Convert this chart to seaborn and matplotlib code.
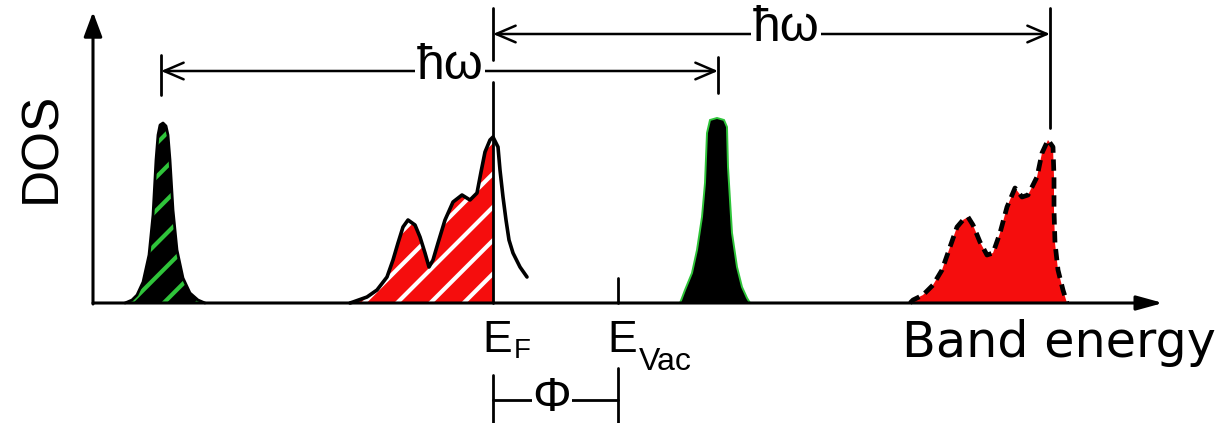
import numpy as np
import matplotlib
matplotlib.use("Agg")
import matplotlib.pyplot as plt
import seaborn as sns

# energies in arbitrary units, E_F = 0
E_F = 0.0
E_VAC = 1.25
HW = 5.57
CORE = -3.32

# core level (left, green hatched)
core_x = np.array([-3.68, -3.61, -3.56, -3.50, -3.44, -3.40, -3.37, -3.35, -3.33, -3.30,
                   -3.27, -3.25, -3.23, -3.20, -3.16, -3.10, -3.03, -2.95, -2.88])
core_dos = np.array([0, 0.03, 0.08, 0.21, 0.48, 0.88, 1.43, 1.68, 1.78, 1.80,
                     1.77, 1.68, 1.43, 0.93, 0.53, 0.25, 0.10, 0.03, 0])

# valence band (red hatched, filled up to E_F)
vb_x = np.array([-1.43, -1.40, -1.26, -1.16, -1.06, -1.00, -0.95, -0.90, -0.85, -0.78,
                 -0.73, -0.68, -0.64, -0.60, -0.55, -0.48, -0.40, -0.31, -0.23, -0.16,
                 -0.12, -0.08, -0.03, 0.00, 0.05, 0.07, 0.10, 0.13, 0.16, 0.20, 0.27, 0.34])
vb_dos = np.array([0, 0.01, 0.06, 0.13, 0.26, 0.43, 0.60, 0.76, 0.83, 0.78,
                   0.66, 0.50, 0.36, 0.43, 0.60, 0.83, 1.01, 1.08, 1.03, 1.10,
                   1.31, 1.51, 1.63, 1.66, 1.56, 1.33, 1.06, 0.83, 0.63, 0.50, 0.36, 0.26])

# photoemitted core level (right, black/green)
pe_core_x = np.array([1.87, 1.89, 1.92, 1.99, 2.04, 2.09, 2.12, 2.14, 2.17, 2.24,
                      2.31, 2.34, 2.35, 2.37, 2.39, 2.44, 2.49, 2.54, 2.57])
pe_core_dos = np.array([0, 0.05, 0.13, 0.30, 0.53, 0.86, 1.20, 1.70, 1.83, 1.85,
                        1.83, 1.76, 1.36, 1.03, 0.70, 0.36, 0.16, 0.05, 0])

# photoemitted valence band (right, solid red)
pe_vb_x = np.array([4.17, 4.20, 4.30, 4.40, 4.49, 4.57, 4.64, 4.70, 4.75, 4.80,
                    4.87, 4.94, 5.00, 5.07, 5.14, 5.22, 5.29, 5.35, 5.44, 5.49,
                    5.55, 5.60, 5.61, 5.61, 5.62, 5.65, 5.70, 5.74])
pe_vb_dos = np.array([0, 0.03, 0.08, 0.18, 0.33, 0.56, 0.76, 0.83, 0.86, 0.78,
                      0.61, 0.48, 0.50, 0.70, 0.96, 1.15, 1.06, 1.08, 1.26, 1.50,
                      1.63, 1.56, 1.26, 0.93, 0.60, 0.33, 0.13, 0])

sns.set_theme(style="white")
plt.rcParams["font.family"] = ["Liberation Sans", "DejaVu Sans"]
plt.rcParams["text.color"] = "black"
plt.rcParams["hatch.linewidth"] = 3.0

RED = "#f50d0d"
GREEN = "#2fc43a"

fig = plt.figure(figsize=(12.28, 4.23), dpi=100)
ax = fig.add_axes([0, 0, 1, 1])
ax.set_xlim(-4.93, 7.35)
ax.set_ylim(-1.20, 3.03)
ax.axis("off")

# axes with arrows
ax.annotate("", xy=(6.70, 0), xytext=(-4.0, 0),
            arrowprops=dict(arrowstyle="-|>,head_length=0.8,head_width=0.22",
                            mutation_scale=20, lw=2.2, color="black",
                            shrinkA=0, shrinkB=0), zorder=5)
ax.annotate("", xy=(-4.0, 2.91), xytext=(-4.0, -0.01),
            arrowprops=dict(arrowstyle="-|>,head_length=0.75,head_width=0.28",
                            mutation_scale=20, lw=2.2, color="black",
                            shrinkA=0, shrinkB=0), zorder=5)

# core level
ax.fill(core_x, core_dos, facecolor="black", edgecolor=GREEN, hatch="/",
        linewidth=0, zorder=2)
sns.lineplot(x=core_x, y=core_dos, sort=False, estimator=None, color="black",
             lw=2, ax=ax, zorder=3)

# valence band, filled up to E_F
occ = vb_x <= E_F
fill_x = np.append(vb_x[occ], E_F)
fill_y = np.append(vb_dos[occ], 0)
ax.fill(fill_x, fill_y, facecolor=RED, edgecolor="white", hatch="/",
        linewidth=0, zorder=2)
sns.lineplot(x=vb_x, y=vb_dos, sort=False, estimator=None, color="black",
             lw=2.6, ax=ax, zorder=3)

# photoemitted core level
ax.fill(pe_core_x, pe_core_dos, facecolor="black", edgecolor=GREEN,
        linewidth=1.4, zorder=2)

# photoemitted valence band
ax.fill(pe_vb_x, pe_vb_dos, facecolor=RED, linewidth=0, zorder=2)
sns.lineplot(x=pe_vb_x, y=pe_vb_dos, sort=False, estimator=None, color="black",
             lw=3.4, ax=ax, zorder=3, dashes=False)
ax.lines[-1].set_dashes([2.4, 1.4])

# E_F line and markers
ax.plot([E_F, E_F], [2.95, 2.43], color="black", lw=2)
ax.plot([E_F, E_F], [2.21, 0], color="black", lw=2, zorder=4)
ax.plot([E_F + HW, E_F + HW], [2.95, 1.75], color="black", lw=2)
ax.plot([CORE, CORE], [2.48, 2.08], color="black", lw=2)
ax.plot([CORE + HW, CORE + HW], [2.46, 2.10], color="black", lw=2)
ax.plot([E_VAC, E_VAC], [0.25, 0], color="black", lw=2)

# hbar-omega arrows
for x0, y0 in [(CORE, 2.32), (E_F, 2.69)]:
    ax.annotate("", xy=(x0 + HW, y0), xytext=(x0, y0),
                arrowprops=dict(arrowstyle="<->,head_length=0.7,head_width=0.3",
                                mutation_scale=20, lw=1.8, color="black",
                                shrinkA=0, shrinkB=0), zorder=4)
ax.text(-0.43, 2.37, "ħω", fontsize=36, ha="center", va="center", zorder=6,
        bbox=dict(facecolor="white", edgecolor="none", pad=1))
ax.text(2.93, 2.75, "ħω", fontsize=36, ha="center", va="center", zorder=6,
        bbox=dict(facecolor="white", edgecolor="none", pad=1))

# work function bracket
ax.plot([E_F, E_F], [-0.72, -1.20], color="black", lw=2)
ax.plot([E_VAC, E_VAC], [-0.65, -1.20], color="black", lw=2)
ax.plot([E_F, E_VAC], [-0.97, -0.97], color="black", lw=2)
ax.text(0.59, -0.95, "Φ", fontsize=35, ha="center", va="center", zorder=6,
        bbox=dict(facecolor="white", edgecolor="none", pad=0.5))

# labels
ax.text(-0.11, -0.49, "E", fontsize=32, ha="left", va="baseline")
ax.text(0.21, -0.55, "F", fontsize=20, ha="left", va="baseline")
ax.text(1.14, -0.49, "E", fontsize=32, ha="left", va="baseline")
ax.text(1.46, -0.67, "Vac", fontsize=23, ha="left", va="baseline")
ax.text(4.09, -0.54, "Band energy", fontsize=35.5, family="DejaVu Sans",
        ha="left", va="baseline")
ax.text(-4.51, 1.56, "DOS", fontsize=37, rotation=90, ha="center", va="center")

fig.savefig("out.png", dpi=100)
